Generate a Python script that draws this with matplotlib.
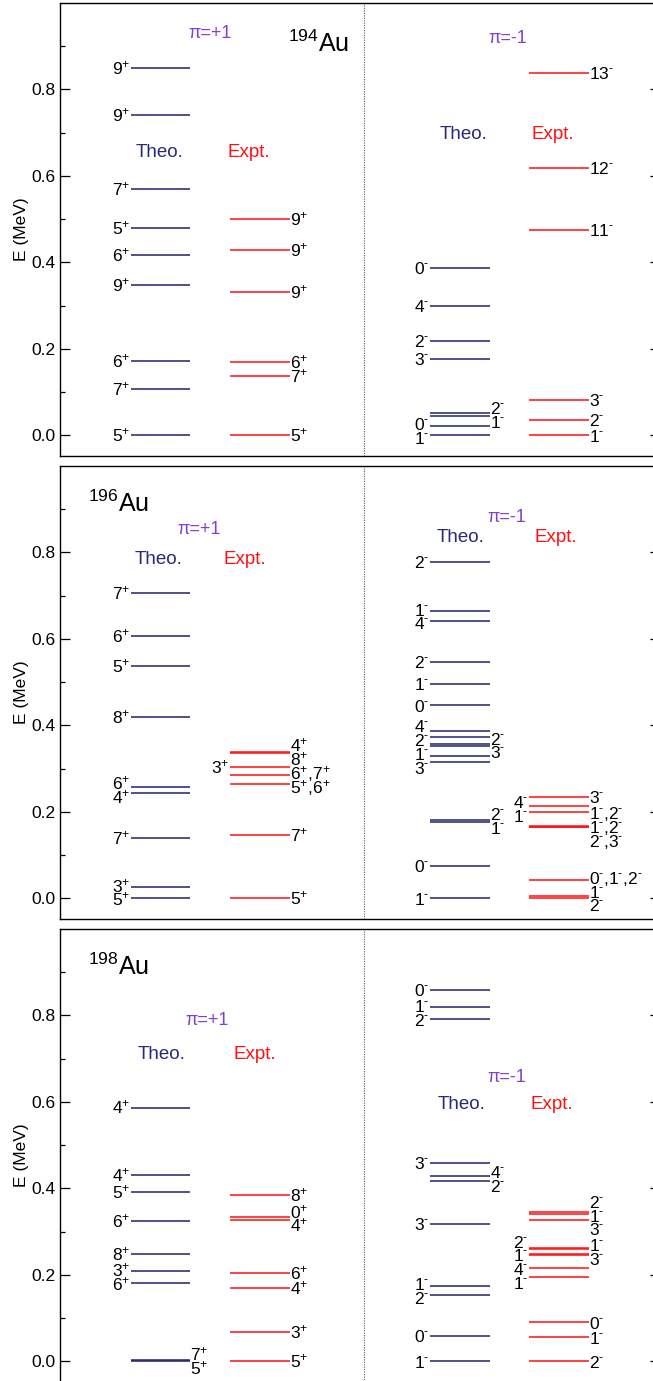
import numpy as np
import matplotlib.pyplot as plt
from matplotlib.ticker import FixedLocator

plt.rcParams['font.family'] = ['Liberation Sans', 'DejaVu Sans']
plt.rcParams['mathtext.fontset'] = 'custom'
plt.rcParams['mathtext.rm'] = 'Liberation Sans'
plt.rcParams['mathtext.it'] = 'Liberation Sans:italic'
plt.rcParams['mathtext.bf'] = 'Liberation Sans:bold'
plt.rcParams['mathtext.default'] = 'regular'

# level energies (MeV) and spins
# 194Au
e194_pos_th = [0.849, 0.740, 0.570, 0.479, 0.417, 0.348, 0.172, 0.106, 0.0]
j194_pos_th = ['9+', '9+', '7+', '5+', '6+', '9+', '6+', '7+', '5+']
e194_pos_ex = [0.501, 0.429, 0.331, 0.170, 0.137, 0.0]
j194_pos_ex = ['9+', '9+', '9+', '6+', '7+', '5+']
e194_neg_th = [0.388, 0.300, 0.219, 0.176, 0.051, 0.045, 0.022, 0.0]
j194_neg_th = ['0-', '4-', '2-', '3-', '2-', '1-', '0-', '1-']
e194_neg_ex = [0.839, 0.619, 0.476, 0.081, 0.035, 0.0]
j194_neg_ex = ['13-', '12-', '11-', '3-', '2-', '1-']

# 196Au
e196_pos_th = [0.706, 0.607, 0.537, 0.420, 0.258, 0.243, 0.140, 0.026, 0.0]
j196_pos_th = ['7+', '6+', '5+', '8+', '6+', '4+', '7+', '3+', '5+']
e196_pos_ex = [0.339, 0.336, 0.303, 0.285, 0.264, 0.147, 0.0]
j196_pos_ex = ['4+', '8+', '3+', '6+,7+', '5+,6+', '7+', '5+']
e196_neg_th = [0.779, 0.664, 0.641, 0.546, 0.496, 0.446, 0.388, 0.372,
               0.356, 0.352, 0.328, 0.315, 0.181, 0.177, 0.0755, 0.0]
j196_neg_th = ['2-', '1-', '4-', '2-', '1-', '0-', '4-', '2-',
               '2-', '3-', '1-', '3-', '2-', '1-', '0-', '1-']
e196_neg_ex = [0.235, 0.214, 0.199, 0.167, 0.165, 0.164, 0.042, 0.0057, 0.0]
j196_neg_ex = ['3-', '4-', '1-', '1-,2-', '1-,2-', '2-,3-', '0-,1-,2-', '1-', '2-']

# 198Au
e198_pos_th = [0.587, 0.431, 0.392, 0.324, 0.249, 0.209, 0.180, 0.002, 0.0]
j198_pos_th = ['4+', '4+', '5+', '6+', '8+', '3+', '6+', '7+', '5+']
e198_pos_ex = [0.385, 0.334, 0.326, 0.204, 0.169, 0.068, 0.0]
j198_pos_ex = ['8+', '0+', '4+', '6+', '4+', '3+', '5+']
e198_neg_th = [0.859, 0.820, 0.792, 0.459, 0.429, 0.417, 0.318, 0.174, 0.153, 0.058, 0.0]
j198_neg_th = ['0-', '1-', '2-', '3-', '4-', '2-', '3-', '1-', '2-', '0-', '1-']
e198_neg_ex = [0.346, 0.340, 0.327, 0.261, 0.259, 0.248, 0.246, 0.215, 0.194, 0.090, 0.055, 0.0]
j198_neg_ex = ['2-', '1-', '3-', '2-', '1-', '1-', '3-', '4-', '1-', '0-', '1-', '2-']

nuclei = ['194', '196', '198']

# ---- layout ----
W, H = 653, 1381
TH_COL = '#20206e'
TH_TXT = '#28287e'
EX_COL = '#ff1010'
PI_COL = '#8040d0'
GAP = 0.032          # min spacing of spin labels (MeV)
LFS = 12.5           # spin label font size

x_th = {'+': (131, 190), '-': (430, 490)}
x_ex = {'+': (230, 290), '-': (529, 589)}

# label sides that differ from the default (theo: left, expt: right)
flips = {
    ('194', '-', 'th'): [4, 5],
    ('196', '+', 'ex'): [2],
    ('196', '-', 'th'): [8, 9, 12, 13],
    ('196', '-', 'ex'): [1, 2],
    ('198', '+', 'th'): [7, 8],
    ('198', '-', 'th'): [4, 5],
    ('198', '-', 'ex'): [3, 5, 7, 8],
}

nuc_xy = {'194': (288, 0.887), '196': (88, 0.894), '198': (88, 0.894)}
pip_xy = {'194': (210, 0.919), '196': (199, 0.843), '198': (207, 0.778)}
pim_xy = {'194': (508, 0.908), '196': (507, 0.870), '198': (507, 0.647)}
lab_pos = {'194': (160, 249, 0.644), '196': (159, 245, 0.773), '198': (162, 255, 0.699)}
lab_neg = {'194': (464, 553, 0.685), '196': (461, 556, 0.824), '198': (462, 552, 0.583)}


def jp(s):
    return s.replace('+', '$^{+}$').replace('-', r'$^{\text{-}}$')


def spread(vals, gap):
    clusters = [[v] for v in vals]

    def pos(c):
        m = np.mean(c)
        n = len(c)
        return [m + gap * ((n - 1) / 2 - i) for i in range(n)]

    changed = True
    while changed:
        changed = False
        for i in range(len(clusters) - 1):
            if pos(clusters[i])[-1] - pos(clusters[i + 1])[0] < gap - 1e-9:
                clusters[i] = clusters[i] + clusters[i + 1]
                del clusters[i + 1]
                changed = True
                break
    out = []
    for c in clusters:
        out += pos(c)
    return out


def draw_column(ax, E, J, xs, color, side0, flip):
    x0, x1 = xs
    ax.hlines(E, x0, x1, colors=color, lw=1.1)
    other = 'R' if side0 == 'L' else 'L'
    sides = [other if i in flip else side0 for i in range(len(E))]
    dy = -0.36 * LFS
    for side in 'LR':
        idx = [i for i in range(len(E)) if sides[i] == side]
        ys = spread([E[i] for i in idx], GAP)
        for i, y in zip(idx, ys):
            if side == 'L':
                ax.annotate(jp(J[i]), (x0, y), xytext=(-0.3, dy), textcoords='offset points',
                            ha='right', va='baseline', fontsize=LFS)
            else:
                ax.annotate(jp(J[i]), (x1, y), xytext=(0, dy), textcoords='offset points',
                            ha='left', va='baseline', fontsize=LFS)


fig = plt.figure(figsize=(W / 100, H / 100), dpi=100)
tops = [3, 466, 929]
ph = 453

for k, nuc in enumerate(nuclei):
    top = tops[k]
    ax = fig.add_axes([60 / W, 1 - (top + ph) / H, 600 / W, ph / H])
    ax.set_xlim(60, 660)
    ax.set_ylim(-0.048, 1.0)
    ax.set_xticks([])
    ax.yaxis.set_major_locator(FixedLocator([0.0, 0.2, 0.4, 0.6, 0.8]))
    ax.yaxis.set_minor_locator(FixedLocator([0.1, 0.3, 0.5, 0.7, 0.9]))
    ax.yaxis.set_major_formatter('{x:.1f}')
    ax.tick_params(axis='y', which='both', direction='in', left=True, right=True,
                   labelsize=12.5, pad=3, width=0.9)
    ax.tick_params(axis='y', which='major', length=7)
    ax.tick_params(axis='y', which='minor', length=3.5)
    for sp in ax.spines.values():
        sp.set_linewidth(1.0)
    ax.set_ylabel('E (MeV)', fontsize=12.5)
    ax.yaxis.set_label_coords(-0.052, 0.5)

    ax.axvline(364, color='0.35', lw=0.8, ls=(0, (1, 1.2)))

    g = globals()
    for par, pname in [('+', 'pos'), ('-', 'neg')]:
        E = g['e%s_%s_th' % (nuc, pname)]
        J = g['j%s_%s_th' % (nuc, pname)]
        draw_column(ax, E, J, x_th[par], TH_COL, 'L', flips.get((nuc, par, 'th'), []))
        E = g['e%s_%s_ex' % (nuc, pname)]
        J = g['j%s_%s_ex' % (nuc, pname)]
        draw_column(ax, E, J, x_ex[par], EX_COL, 'R', flips.get((nuc, par, 'ex'), []))

    x, y = nuc_xy[nuc]
    ax.text(x, y, r'$^{%s}$Au' % nuc, fontsize=18, ha='left', va='baseline')
    x, y = pip_xy[nuc]
    ax.text(x, y, 'π=+1', color=PI_COL, fontsize=13, ha='center', va='baseline')
    x, y = pim_xy[nuc]
    ax.text(x, y, 'π=-1', color=PI_COL, fontsize=13, ha='center', va='baseline')
    xt, xe, y = lab_pos[nuc]
    ax.text(xt, y, 'Theo.', color=TH_TXT, fontsize=13.5, ha='center', va='baseline')
    ax.text(xe, y, 'Expt.', color=EX_COL, fontsize=13.5, ha='center', va='baseline')
    xt, xe, y = lab_neg[nuc]
    ax.text(xt, y, 'Theo.', color=TH_TXT, fontsize=13.5, ha='center', va='baseline')
    ax.text(xe, y, 'Expt.', color=EX_COL, fontsize=13.5, ha='center', va='baseline')

fig.savefig('out.png', dpi=100)
